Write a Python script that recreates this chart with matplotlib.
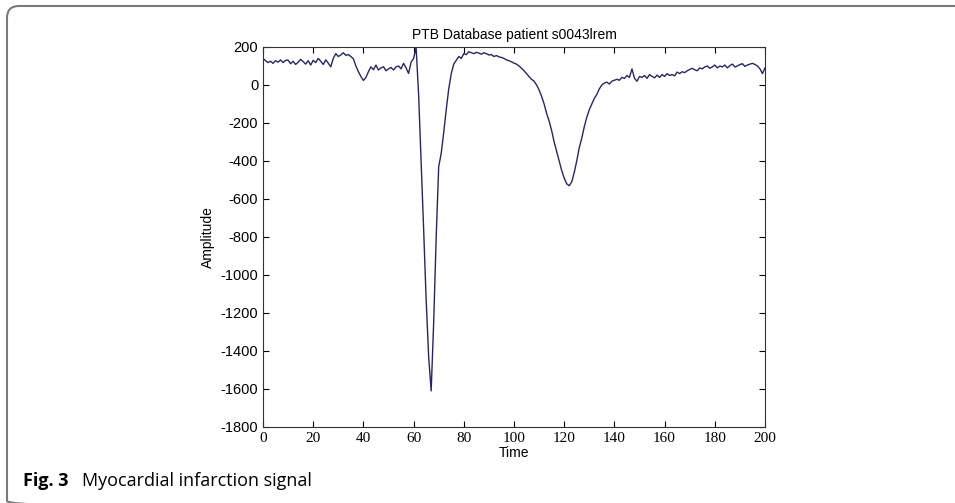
import numpy as np
import matplotlib.pyplot as plt
from matplotlib.patches import FancyBboxPatch

plt.rcParams["axes.unicode_minus"] = False

# ECG samples (one per time step)
time = np.arange(0, 201)
amplitude = [
    140, 128, 118, 125, 114, 128, 120, 132, 118, 130, 131,
    112, 125, 108, 120, 135, 123, 110, 128, 105, 130,
    118, 140, 125, 108, 132, 115, 96, 140, 165, 150,
    158, 170, 156, 160, 150, 138, 100, 70, 45, 24,
    40, 70, 96, 80, 105, 79, 90, 96, 75, 85,
    92, 79, 95, 100, 85, 114, 90, 61, 120, 140,
    198,
    -50, -400, -760, -1130, -1430, -1610, -1250, -800, -430,
    -360, -250, -130, -20, 60, 110, 130, 150, 140, 165,
    160, 175, 170, 165, 172, 168, 162, 170, 165, 158,
    160, 150, 155, 148, 145, 140, 132, 128, 122, 115,
    110, 100, 88, 75, 60, 44, 30, 20, 0, -26,
    -60, -100, -150, -190, -240, -300, -350, -400, -450, -490,
    -520, -530, -510, -460, -400, -330, -280, -220, -170, -130,
    -100, -70, -50, -20, 0, 10, 15, 5, 20, 25,
    30, 25, 40, 35, 50, 40, 85, 35, 20, 45,
    40, 50, 35, 55, 45, 38, 52, 40, 55, 45,
    60, 50, 55, 48, 68, 60, 70, 65, 75, 82,
    88, 80, 75, 90, 85, 95, 100, 88, 95, 105,
    90, 100, 95, 105, 90, 102, 110, 95, 100, 108,
    112, 98, 105, 110, 114, 108, 100, 85, 60, 90,
]

xticks = np.arange(0, 201, 20)
yticks = np.arange(-1800, 201, 200)

fig = plt.figure(figsize=(9.55, 5.03), dpi=100)

# background layer in pixel units for the rounded frame and caption
bg = fig.add_axes([0, 0, 1, 1])
bg.set_xlim(0, 955)
bg.set_ylim(503, 0)
bg.axis("off")
frame = FancyBboxPatch((7, 6), 1000, 507, boxstyle="round,pad=0,rounding_size=12",
                       fill=False, edgecolor="#7a7a7a", linewidth=1.5)
bg.add_patch(frame)
bg.text(23, 481, "Fig. 3", fontfamily="Open Sans", fontweight="bold",
        fontsize=13, va="center", ha="left")
bg.text(82, 481, "Myocardial infarction signal", fontfamily="Open Sans",
        fontsize=13, va="center", ha="left")

ax = fig.add_axes([263 / 955, 1 - 427 / 503, (765 - 263) / 955, (427 - 47) / 503])
ax.plot(time, amplitude, color="#27275f", linewidth=1.0)
ax.set_xlim(0, 200)
ax.set_ylim(-1800, 200)
ax.set_xticks(xticks)
ax.set_yticks(yticks)
ax.tick_params(direction="in", top=True, right=True, length=4, width=0.8)
for lab in ax.get_xticklabels():
    lab.set_fontfamily("Liberation Serif")
    lab.set_fontsize(11)
for lab in ax.get_yticklabels():
    lab.set_fontfamily("Liberation Sans")
    lab.set_fontsize(10.5)
for s in ax.spines.values():
    s.set_linewidth(0.8)
    s.set_color("#333333")

ax.set_title("PTB Database patient s0043lrem", fontfamily="Liberation Sans",
             fontsize=10, pad=6)
ax.set_xlabel("Time", fontfamily="Liberation Sans", fontsize=10, labelpad=1)
ax.set_ylabel("Amplitude", fontfamily="Liberation Sans", fontsize=10, labelpad=4)

fig.savefig("out.png", dpi=100)
